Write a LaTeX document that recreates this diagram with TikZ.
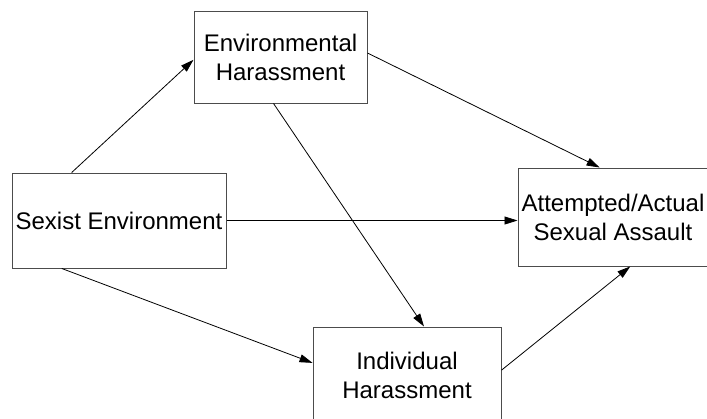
\documentclass[tikz,border=0pt]{standalone}
\usepackage{fontspec}
\setmainfont{Liberation Sans}
\usetikzlibrary{arrows.meta, calc}

\tikzset{
	factor/.style={draw=black!70, line width=1pt, rectangle, align=center,
		font=\fontsize{24}{29}\selectfont, inner sep=0pt},
	link/.style={-{Triangle[length=13pt, width=8pt]}, line width=0.8pt}
}

\begin{document}
\begin{tikzpicture}[x=1pt, y=-1pt]
	\useasboundingbox (0,0) rectangle (707,418);
	\clip (0,0) rectangle (707,418);
	\node [factor, minimum width=214pt, minimum height=95pt] (sexist) at (119,220.5) {Sexist Environment};
	\node [factor, minimum width=173pt, minimum height=92pt] (envharass) at (280.5,57) {Environmental\\Harassment};
	\node [factor, minimum width=190pt, minimum height=98pt] (assault) at (613,217) {Attempted/Actual\\Sexual Assault};
	\node [factor, minimum width=188pt, minimum height=96pt] (indharass) at (407,375) {Individual\\Harassment};
	% paths out of the sexist environment
	\draw [link] ($(sexist.north west)!0.28!(sexist.north east)$) -- ($(envharass.north west)!0.53!(envharass.south west)$);
	\draw [link] (sexist.east) -- (sexist.east -| assault.west);
	\draw [link] ($(sexist.south west)!0.234!(sexist.south east)$) -- ($(indharass.north west)!0.375!(indharass.south west)$);
	% paths out of the two kinds of harassment
	\draw [link] ($(envharass.north east)!0.457!(envharass.south east)$) -- ($(assault.north west)!0.43!(assault.north east)$);
	\draw [link] ($(envharass.south west)!0.46!(envharass.south east)$) -- ($(indharass.north west)!0.59!(indharass.north east)$);
	\draw [link] ($(indharass.north east)!0.45!(indharass.south east)$) -- ($(assault.south west)!0.59!(assault.south east)$);
\end{tikzpicture}
\end{document}
